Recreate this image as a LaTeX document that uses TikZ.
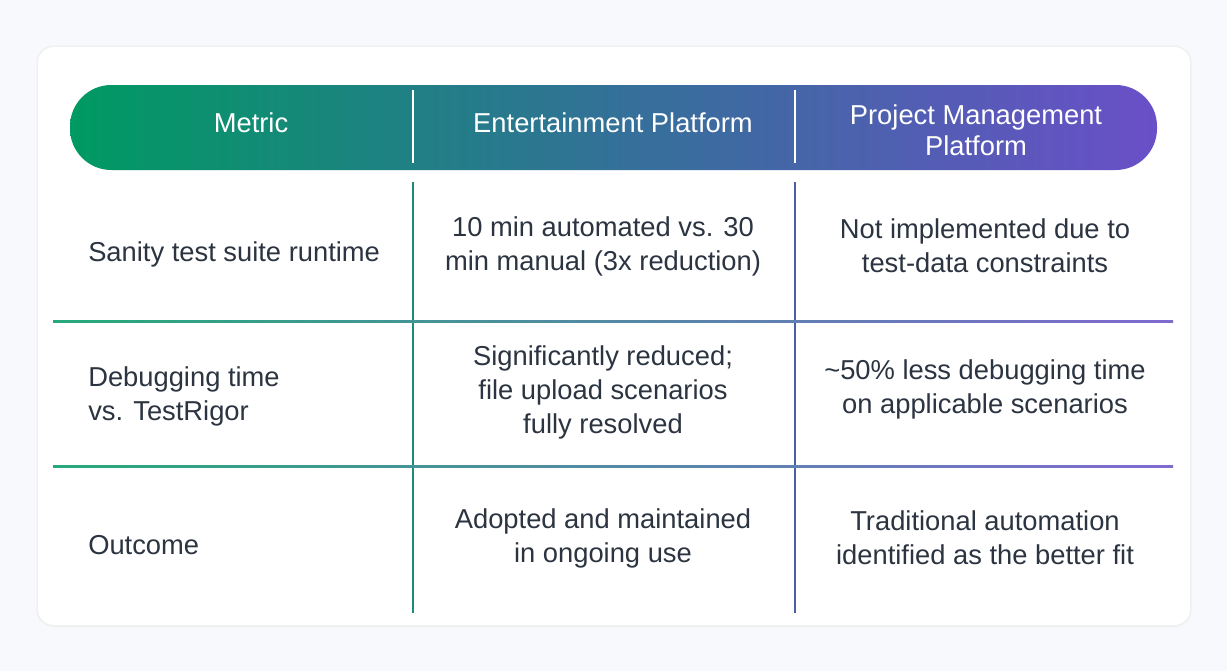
\documentclass[tikz,border=0pt]{standalone}
\usepackage{fontspec}
\setmainfont{Liberation Sans}
\definecolor{bg}{HTML}{F7F9FC}
\definecolor{gA}{HTML}{009A62}
\definecolor{gB}{HTML}{1F8A80}
\definecolor{gC}{HTML}{4060A8}
\definecolor{gD}{HTML}{6A4FC8}
\definecolor{txt}{HTML}{2B3440}
\definecolor{vA}{HTML}{1E8A7C}
\definecolor{vB}{HTML}{4A60A2}
\tikzset{
 cell/.style={text=txt,font=\fontsize{20.5}{25.5}\selectfont,align=center,inner sep=0pt},
 hcell/.style={text=white,font=\fontsize{20.5}{23.5}\selectfont,align=center,inner sep=0pt},
 hline/.style={left color=gA!85!white,right color=gD!85!white,draw=none},
}
\begin{document}
\begin{tikzpicture}[x=0.75pt,y=-0.75pt]
\fill[bg] (0,0) rectangle (1227,671);
\useasboundingbox (0,0) rectangle (1227,671);
\fill[black!6,rounded corners=13pt] (36.5,45.5) rectangle (1191.5,627);
\fill[white,rounded corners=12pt] (38,47) rectangle (1190,625);
\shade[left color=gA,right color=gD,middle color=gC!60!gB,rounded corners=31pt] (70,85) rectangle (1157,170);
\draw[white,line width=1.5pt] (413,90) -- (413,163) (795,90) -- (795,163);
\draw[vA,line width=1.5pt] (413,182) -- (413,613);
\draw[vB,line width=1.5pt] (795,182) -- (795,613);
\shade[hline] (53,320) rectangle (1173,322.5);
\shade[hline] (53,465) rectangle (1173,467.5);
\node[hcell] (h1) at (251,123) {Metric};
\node[hcell] (h2) at (613,123) {Entertainment Platform};
\node[hcell] (h3) at (976,130) {Project Management\\Platform};
\node[cell,anchor=west,align=left] (a1) at (88,254) {Sanity test suite runtime};
\node[cell] (b1) at (603,246) {10 min automated vs. 30\\min manual (3x reduction)};
\node[cell] (c1) at (985,246) {Not implemented due to\\test-data constraints};
\node[cell,anchor=west,align=left] (a2) at (88,396) {Debugging time\\vs. TestRigor};
\node[cell] (b2) at (603,392) {Significantly reduced;\\file upload scenarios\\fully resolved};
\node[cell] (c2) at (985,389) {\textasciitilde50\% less debugging time\\on applicable scenarios};
\node[cell,anchor=west,align=left] (a3) at (88,545) {Outcome};
\node[cell] (b3) at (603,538) {Adopted and maintained\\in ongoing use};
\node[cell] (c3) at (985,538) {Traditional automation\\identified as the better fit};
\end{tikzpicture}
\end{document}
